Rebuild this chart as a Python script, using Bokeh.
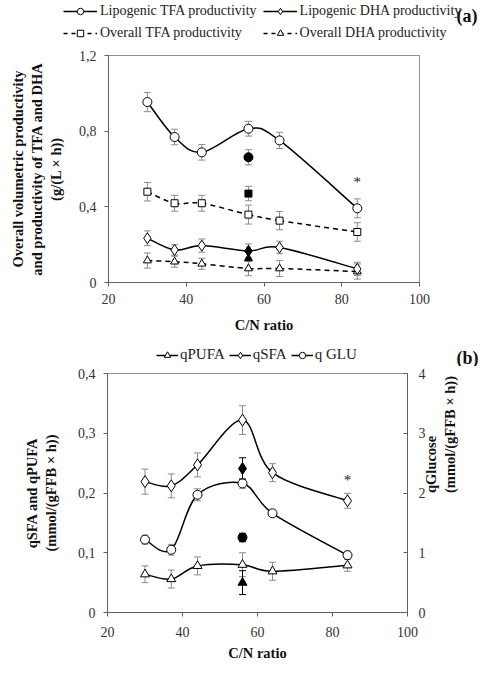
import numpy as np
from bokeh.plotting import figure
from bokeh.models import (ColumnDataSource, Whisker, TeeHead, Legend, LegendItem,
                          Range1d, LinearAxis, FixedTicker, CustomJSTickFormatter, Label)
from bokeh.embed import file_html
from bokeh.resources import INLINE
from bokeh.core.properties import value

# ---------------- data: panel (a) ----------------
cn = [30, 37, 44, 56, 64, 84]
lip_tfa = [0.954, 0.769, 0.688, 0.813, 0.751, 0.392]
lip_tfa_err = [0.051, 0.041, 0.041, 0.039, 0.043, 0.05]
lip_dha = [0.234, 0.172, 0.195, 0.167, 0.185, 0.072]
lip_dha_err = [0.039, 0.028, 0.035, 0.037, 0.033, 0.035]
ovr_tfa = [0.48, 0.419, 0.419, 0.359, 0.327, 0.267]
ovr_tfa_err = [0.049, 0.042, 0.042, 0.05, 0.048, 0.049]
ovr_dha = [0.116, 0.11, 0.099, 0.074, 0.074, 0.058]
ovr_dha_err = [0.04, 0.029, 0.029, 0.038, 0.042, 0.04]
# filled (reference condition) points at C/N 56
ref_x = [56]
ref_lip_tfa = [0.662]
ref_lip_tfa_err = [0.04]
ref_ovr_tfa = [0.47]
ref_ovr_tfa_err = [0.038]
ref_lip_dha = [0.167]
ref_ovr_dha = [0.127]
star_a_x = [84]
star_a_y = [0.53]

# ---------------- data: panel (b) ----------------
q_sfa = [0.219, 0.212, 0.247, 0.322, 0.234, 0.187]
q_sfa_err = [0.021, 0.02, 0.02, 0.024, 0.015, 0.0125]
q_pufa = [0.064, 0.056, 0.078, 0.080, 0.069, 0.079]
q_pufa_err = [0.014, 0.015, 0.015, 0.02, 0.015, 0.01]
q_glu = [1.22, 1.05, 1.97, 2.16, 1.66, 0.96]
q_glu_err = [0.075, 0.09, 0.1, 0.08, 0.05, 0.065]
ref_q_sfa = [0.241]
ref_q_sfa_err = [0.018]
ref_q_pufa = [0.05]
ref_q_pufa_err = [0.02]
ref_q_glu = [1.255]
ref_q_glu_err = [0.07]
star_b_x = [84]
star_b_y = [0.221]

FONT = "Liberation Serif"
GRAY = "#8a8a8a"
W = 478


def smooth(p, x, y, range_name="default", **kw):
    x = np.asarray(x, float)
    y = np.asarray(y, float)
    n = len(x)
    xp = np.concatenate([[x[0]], x, [x[-1]]])
    yp = np.concatenate([[y[0]], y, [y[-1]]])
    src = ColumnDataSource(dict(
        x0=xp[1:n], y0=yp[1:n], x1=xp[2:n + 1], y1=yp[2:n + 1],
        cx0=xp[1:n] + (xp[2:n + 1] - xp[0:n - 1]) / 6,
        cy0=yp[1:n] + (yp[2:n + 1] - yp[0:n - 1]) / 6,
        cx1=xp[2:n + 1] - (xp[3:n + 2] - xp[1:n]) / 6,
        cy1=yp[2:n + 1] - (yp[3:n + 2] - yp[1:n]) / 6,
    ))
    return p.bezier(x0="x0", y0="y0", x1="x1", y1="y1", cx0="cx0", cy0="cy0",
                    cx1="cx1", cy1="cy1", source=src, line_color="black",
                    line_width=1.5, y_range_name=range_name, **kw)


def errbar(p, x, y, e, color=GRAY, range_name="default"):
    src = ColumnDataSource(dict(base=x, lower=np.array(y) - np.array(e),
                                upper=np.array(y) + np.array(e)))
    w = Whisker(base="base", lower="lower", upper="upper", source=src,
                line_color=color, line_width=1,
                upper_head=TeeHead(size=7, line_color=color, line_width=1),
                lower_head=TeeHead(size=7, line_color=color, line_width=1),
                y_range_name=range_name)
    p.add_layout(w)


def markers(p, x, y, marker, size, fill="white", range_name="default"):
    return p.scatter(x, y, marker=marker, size=size, fill_color=fill,
                     line_color="black", line_width=1, y_range_name=range_name)


def style(p):
    p.xgrid.visible = False
    p.ygrid.visible = False
    p.outline_line_color = "#909090"
    p.background_fill_color = "white"
    for ax in p.axis:
        ax.axis_line_color = "#606060"
        ax.major_tick_line_color = "#606060"
        ax.minor_tick_line_color = None
        ax.major_tick_out = 4
        ax.major_tick_in = 0
        ax.major_label_text_font = FONT
        ax.major_label_text_font_size = "14px"
        ax.major_label_text_color = "#333333"
        ax.axis_label_text_font = FONT
        ax.axis_label_text_font_size = "14.5px"
        ax.axis_label_text_font_style = "bold"
        ax.axis_label_text_color = "#111111"


def header(h):
    # legend strip: frame fills the whole strip; its sample renderers lie off-view
    f = figure(width=W, height=h, x_range=Range1d(-W, 0), y_range=Range1d(0, h),
               output_backend="svg", toolbar_location=None, min_border=0,
               x_axis_location=None, y_axis_location=None)
    f.outline_line_color = None
    f.xgrid.visible = False
    f.ygrid.visible = False
    return f


def sample(f, x, y, marker, size, dash="solid"):
    ln = f.line(x, y, line_color="black", line_width=1.5, line_dash=dash)
    sc = f.scatter(x, y, marker=marker, size=size, fill_color="white",
                   line_color="black", line_width=1)
    return [ln, sc]


def style_legend(lg, gw, gh, fs):
    lg.label_text_font = FONT
    lg.label_text_font_size = fs
    lg.label_text_color = "#222222"
    lg.glyph_width = gw
    lg.glyph_height = gh
    lg.label_height = gh
    lg.label_standoff = 3
    lg.padding = 0
    lg.margin = 0
    lg.border_line_color = None
    lg.background_fill_alpha = 0


comma = CustomJSTickFormatter(code="""
    if (Math.abs(tick) < 1e-9) return '0';
    return tick.toFixed(1).replace('.', ',');
""")

# ---------------- legend strip (a) ----------------
HA = 44
ha = header(HA)
leg1 = Legend(items=[
    LegendItem(label="Lipogenic TFA productivity", renderers=sample(ha, cn, lip_tfa, "circle", 8)),
    LegendItem(label="Lipogenic DHA productivity", renderers=sample(ha, cn, lip_dha, "diamond", 9)),
    LegendItem(label="Overall TFA productivity", renderers=sample(ha, cn, ovr_tfa, "square", 7, "4 4")),
    LegendItem(label="Overall DHA productivity", renderers=sample(ha, cn, ovr_dha, "triangle", 8, "4 4")),
], orientation="horizontal", ncols=2, location=(63, 3))
style_legend(leg1, 34, 16, "14px")
leg1.spacing = 6
ha.add_layout(leg1)
ha.add_layout(Label(x=-22, y=HA - 15, text="(a)", text_font=FONT, text_font_size="18px",
                    text_font_style="bold", text_baseline="middle", text_color="#111111"))

# ---------------- figure (a) ----------------
p1 = figure(width=W, height=292, x_range=Range1d(20, 100), y_range=Range1d(0, 1.2),
            output_backend="svg", toolbar_location=None,
            min_border_left=108, min_border_right=59, min_border_top=11, min_border_bottom=54)

errbar(p1, cn, lip_tfa, lip_tfa_err)
errbar(p1, cn, ovr_tfa, ovr_tfa_err)
errbar(p1, cn, lip_dha, lip_dha_err)
errbar(p1, cn, ovr_dha, ovr_dha_err)
errbar(p1, ref_x, ref_lip_tfa, ref_lip_tfa_err)
errbar(p1, ref_x, ref_ovr_tfa, ref_ovr_tfa_err)

smooth(p1, cn, lip_tfa)
smooth(p1, cn, lip_dha)
smooth(p1, cn, ovr_tfa, line_dash="5 4")
smooth(p1, cn, ovr_dha, line_dash="5 4")

markers(p1, cn, lip_tfa, "circle", 9)
markers(p1, cn, ovr_tfa, "square", 7)
markers(p1, cn, ovr_dha, "triangle", 8)
markers(p1, cn, lip_dha, "diamond", 11)
markers(p1, ref_x, ref_lip_tfa, "circle", 9, fill="black")
markers(p1, ref_x, ref_ovr_tfa, "square", 7, fill="black")
markers(p1, ref_x, ref_lip_dha, "diamond", 11, fill="black")
markers(p1, ref_x, ref_ovr_dha, "triangle", 8, fill="black")
p1.text(star_a_x, star_a_y, text=["*"], text_align="center", text_baseline="middle",
        text_font=value(FONT), text_font_size="15px", color="#222222")

p1.xaxis.ticker = FixedTicker(ticks=[20, 40, 60, 80, 100])
p1.yaxis.ticker = FixedTicker(ticks=[0, 0.4, 0.8, 1.2])
p1.yaxis.formatter = comma
p1.xaxis.axis_label = "C/N ratio"
p1.yaxis.axis_label = "Overall volumetric productivity\nand productivity of TFA and DHA\n(g/(L \u00d7 h))"
style(p1)
p1.xaxis.major_label_standoff = 7
p1.xaxis.axis_label_standoff = 10
p1.yaxis.major_label_standoff = 8
p1.yaxis.axis_label_standoff = 12

# ---------------- legend strip (b) ----------------
HB = 30
hb = header(HB)
leg2 = Legend(items=[
    LegendItem(label="qPUFA", renderers=sample(hb, cn, q_pufa, "triangle", 8)),
    LegendItem(label="qSFA", renderers=sample(hb, cn, q_sfa, "diamond", 9)),
    LegendItem(label="q GLU", renderers=sample(hb, cn, q_glu, "circle", 7)),
], orientation="horizontal", location=(156, 3))
style_legend(leg2, 22, 16, "15px")
leg2.label_standoff = 2
leg2.spacing = 4
hb.add_layout(leg2)
hb.add_layout(Label(x=-22, y=HB - 21, text="(b)", text_font=FONT, text_font_size="18px",
                    text_font_style="bold", text_baseline="middle", text_color="#111111"))

# ---------------- figure (b) ----------------
p2 = figure(width=W, height=299, x_range=Range1d(20, 100), y_range=Range1d(0, 0.4),
            output_backend="svg", toolbar_location=None,
            min_border_left=107, min_border_right=66, min_border_top=7, min_border_bottom=53)
p2.extra_y_ranges = {"glu": Range1d(0, 4)}

errbar(p2, cn, q_sfa, q_sfa_err)
errbar(p2, cn, q_pufa, q_pufa_err)
errbar(p2, cn, q_glu, q_glu_err, range_name="glu")
errbar(p2, ref_x, ref_q_sfa, ref_q_sfa_err, color="black")
errbar(p2, ref_x, ref_q_pufa, ref_q_pufa_err, color="black")
errbar(p2, ref_x, ref_q_glu, ref_q_glu_err, color="black", range_name="glu")

smooth(p2, cn, q_pufa)
smooth(p2, cn, q_sfa)
smooth(p2, cn, q_glu, range_name="glu")
markers(p2, cn, q_pufa, "triangle", 9)
markers(p2, cn, q_sfa, "diamond", 12)
markers(p2, cn, q_glu, "circle", 9, range_name="glu")
markers(p2, ref_x, ref_q_sfa, "diamond", 12, fill="black")
markers(p2, ref_x, ref_q_pufa, "triangle", 9, fill="black")
markers(p2, ref_x, ref_q_glu, "circle", 9, fill="black", range_name="glu")
p2.text(star_b_x, star_b_y, text=["*"], text_align="center", text_baseline="middle",
        text_font=value(FONT), text_font_size="15px", color="#222222")

right = LinearAxis(y_range_name="glu", ticker=FixedTicker(ticks=[0, 1, 2, 3, 4]),
                   axis_label="qGlucose\n(mmol/(gFFB \u00d7 h))")
p2.add_layout(right, "right")
p2.xaxis.ticker = FixedTicker(ticks=[20, 40, 60, 80, 100])
p2.yaxis[0].ticker = FixedTicker(ticks=[0, 0.1, 0.2, 0.3, 0.4])
p2.yaxis[0].formatter = comma
p2.xaxis.axis_label = "C/N ratio"
p2.yaxis[0].axis_label = "qSFA and qPUFA\n(mmol/(gFFB \u00d7 h))"
style(p2)
right.major_tick_in = 4
right.major_tick_out = 0
if "axis_label_orientation" in right.properties():
    right.axis_label_orientation = np.pi / 2
p2.xaxis.major_label_standoff = 10
p2.xaxis.axis_label_standoff = 5
p2.yaxis[0].major_label_standoff = 8
p2.yaxis[0].axis_label_standoff = 16
right.major_label_standoff = 11
right.axis_label_standoff = 12

# four stacked roots (no cross-alignment of the frames)
open("out.html", "w").write(file_html([ha, p1, hb, p2], INLINE))
